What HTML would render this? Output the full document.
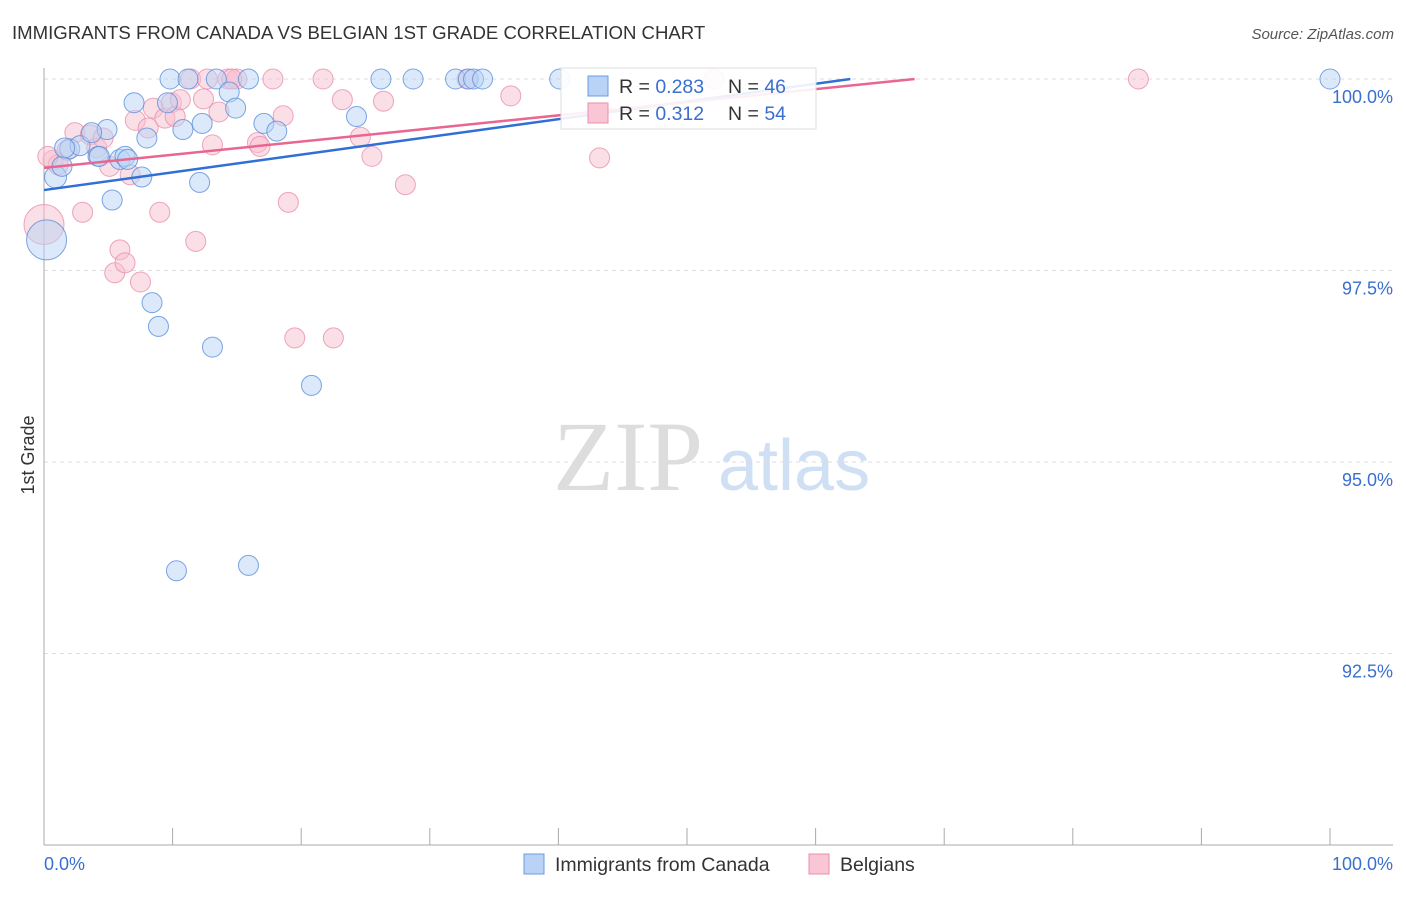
<!DOCTYPE html>
<html><head><meta charset="utf-8"><style>
body{margin:0;background:#fff;font-family:"Liberation Sans",sans-serif;}
svg text{font-family:"Liberation Sans",sans-serif;}
</style></head><body>
<svg id="chart" width="1406" height="892">
<text x="12" y="39" font-size="18.6" fill="#333">IMMIGRANTS FROM CANADA VS BELGIAN 1ST GRADE CORRELATION CHART</text>
<text x="1394" y="39" font-size="15" fill="#555" font-style="italic" text-anchor="end">Source: ZipAtlas.com</text>
<text x="553" y="490" font-size="100" fill="#ddd" style="font-family:'Liberation Serif',serif">ZIP</text>
<text x="718" y="490" font-size="72" fill="#cfe0f5">atlas</text>
<text transform="translate(34,455) rotate(-90)" font-size="18" fill="#333" text-anchor="middle">1st Grade</text>
<g id="grid"></g><g id="pts"></g><g id="lines"></g>
<g>
<rect x="561" y="68" width="255" height="61" fill="#fff" fill-opacity="0.9" stroke="#ddd"/>
<rect x="588" y="76" width="20" height="20" fill="#b8d3f5" stroke="#6c9be0"/>
<rect x="588" y="103" width="20" height="20" fill="#f8c6d5" stroke="#ea8fac"/>
<text x="619" y="93" font-size="19.5" fill="#333">R = <tspan fill="#3a6fd0">0.283</tspan><tspan x="728">N = </tspan><tspan fill="#3a6fd0">46</tspan></text>
<text x="619" y="120" font-size="19.5" fill="#333">R = <tspan fill="#3a6fd0"> 0.312</tspan><tspan x="728">N = </tspan><tspan fill="#3a6fd0">54</tspan></text>
</g>
<g>
<rect x="524" y="854" width="20" height="20" fill="#b8d3f5" stroke="#6c9be0"/>
<text x="555" y="871" font-size="19.5" fill="#333">Immigrants from Canada</text>
<rect x="809" y="854" width="20" height="20" fill="#f8c6d5" stroke="#ea8fac"/>
<text x="840" y="871" font-size="19.5" fill="#333">Belgians</text>
</g>
</svg>
<script>
const yTicks=[100,97.5,95,92.5];
const yTickLabels=["100.0%","97.5%","95.0%","92.5%"];
const xTickLabels=["0.0%","100.0%"];
const canadaX=[0.9,0.2,1.4,2.0,2.8,4.2,4.9,5.9,6.3,7.0,7.6,5.3,8.0,8.4,8.9,9.8,9.6,10.8,11.2,12.1,12.3,13.1,13.4,14.4,14.9,15.9,17.1,18.1,10.3,15.9,20.8,24.3,26.2,28.7,32.0,33.0,33.4,34.1,40.1,100.0,3.7,6.5,1.6,4.3];
const canadaY=[98.72,97.9,98.86,99.09,99.13,98.99,99.34,98.95,98.99,99.69,98.72,98.42,99.23,97.08,96.77,100,99.69,99.34,100,98.65,99.42,96.5,100,99.83,99.62,100,99.42,99.32,93.58,93.65,96.0,99.51,100,100,100,100,100,100,100,100,99.3,98.95,99.1,98.99];
const belgX=[0.0,0.7,1.1,1.8,2.4,3.0,3.6,4.1,4.6,5.1,5.5,5.9,6.3,6.7,7.1,7.5,8.1,8.5,9.0,9.4,9.9,10.2,10.6,11.4,11.8,12.4,12.7,13.1,13.6,14.3,15.0,16.6,16.8,17.8,18.6,19.0,19.5,21.7,22.5,23.2,24.6,25.5,26.4,28.1,32.9,36.3,43.2,52.1,85.1,14.6,0.3];
const belgY=[98.1,98.94,98.88,99.07,99.3,98.26,99.27,99.1,99.23,98.86,97.47,97.77,97.6,98.75,99.46,97.35,99.36,99.62,98.26,99.49,99.69,99.51,99.73,100,97.88,99.74,100,99.14,99.57,100,100,99.17,99.12,100,99.52,98.39,96.62,100,96.62,99.73,99.24,98.99,99.71,98.62,100,99.78,98.97,100,100,100,98.99];
const NS='http://www.w3.org/2000/svg';
const X0=44,X1=1330,Y100=79,PX_PER_PCT=191.5/2.5;
const sx=v=>X0+(X1-X0)*v/100;
const sy=v=>Y100+(100-v)*PX_PER_PCT;
function mk(tag,attrs,parent){const e=document.createElementNS(NS,tag);for(const k in attrs)e.setAttribute(k,attrs[k]);parent.appendChild(e);return e;}
const grid=document.getElementById('grid');
yTicks.forEach((t,i)=>{
 const l=mk('line',{x1:44,x2:1393,y1:sy(t),y2:sy(t),stroke:'#ddd','stroke-dasharray':'4,4'},grid);
 
 
 const tx=mk('text',{x:1393,y:sy(t)+24,'font-size':18,fill:'#3a6fd0','text-anchor':'end'},grid);
 tx.textContent=yTickLabels[i];
 
 
});
const ax=mk('line',{x1:44,x2:44,y1:68,y2:845,stroke:'#aaa'},grid);


const bx=mk('line',{x1:44,x2:1393,y1:845,y2:845,stroke:'#aaa'},grid);


for(let i=0;i<=10;i++){
 const tk=mk('line',{x1:sx(i*10),x2:sx(i*10),y1:828,y2:845,stroke:'#aaa'},grid);
 
 
}
[[0,'start',44],[100,'end',1393]].forEach((d,i)=>{
 const tx=mk('text',{x:d[2],y:870,'font-size':18,fill:'#3a6fd0','text-anchor':d[1]},grid);
 tx.textContent=xTickLabels[i];
 
 
});
const pts=document.getElementById('pts');
function draw(xs,ys,fill,stroke,name){
 xs.forEach((x,i)=>{
  const r=(x<0.5&&ys[i]<98.3)?20:(i===0&&name==='canada-point'?11:10);
  const c=mk('circle',{cx:sx(x),cy:sy(ys[i]),r:r,fill:fill,'fill-opacity':0.5,stroke:stroke,'stroke-opacity':0.8,'stroke-width':1},pts);
  
  
 });
}
draw(belgX,belgY,'#f8c0d0','#ea8fac','belgian-point');
draw(canadaX,canadaY,'#b8d3f5','#5b8fdc','canada-point');
const lines=document.getElementById('lines');
function drawLine(a,b,color,name){
 let xEnd=100;if(a+b*100>100)xEnd=(100-a)/b;
 const l=mk('line',{x1:sx(0),y1:sy(a),x2:sx(xEnd),y2:sy(a+b*xEnd),stroke:color,'stroke-width':2.5},lines);
 
 
}
drawLine(98.55,(100-98.55)/62.7,'#2f6fd6','canada-trend-line');
drawLine(98.84,(100-98.84)/67.7,'#e8668f','belgian-trend-line');
</script>
</body></html>
